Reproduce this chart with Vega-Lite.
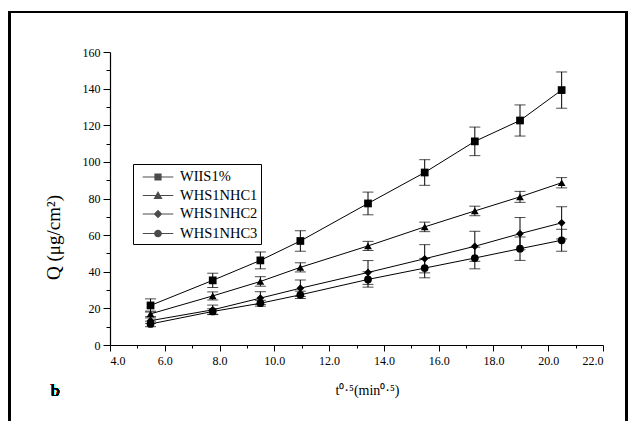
{
  "$schema": "https://vega.github.io/schema/vega-lite/v6.json",
  "width": 493,
  "height": 293,
  "autosize": {"type": "none"},
  "padding": {"left": 110, "top": 52, "right": 33, "bottom": 76},
  "background": "white",
  "config": {
    "view": {"stroke": null},
    "font": "Liberation Serif",
    "axis": {"grid": false, "domainColor": "black", "tickColor": "black", "labelColor": "black", "titleColor": "black", "labelFont": "Liberation Serif", "titleFont": "Liberation Serif", "labelFontSize": 12, "titleFontWeight": "normal", "labelOverlap": false},
    "legend": {"labelFont": "Liberation Serif"}
  },
  "data": {
    "values": [
      {"series": "WIIS1%", "x": 5.48, "y": 21.6, "lo": 18.0, "hi": 25.2},
      {"series": "WIIS1%", "x": 7.75, "y": 35.3, "lo": 31.4, "hi": 39.2},
      {"series": "WIIS1%", "x": 9.49, "y": 46.2, "lo": 41.6, "hi": 50.8},
      {"series": "WIIS1%", "x": 10.95, "y": 56.8, "lo": 51.2, "hi": 62.4},
      {"series": "WIIS1%", "x": 13.42, "y": 77.3, "lo": 71.1, "hi": 83.5},
      {"series": "WIIS1%", "x": 15.49, "y": 94.2, "lo": 87.2, "hi": 101.2},
      {"series": "WIIS1%", "x": 17.32, "y": 111.2, "lo": 103.4, "hi": 119.0},
      {"series": "WIIS1%", "x": 18.97, "y": 122.6, "lo": 114.1, "hi": 131.1},
      {"series": "WIIS1%", "x": 20.49, "y": 139.2, "lo": 129.3, "hi": 149.1},
      {"series": "WHS1NHC1", "x": 5.48, "y": 17.0, "lo": 15.5, "hi": 18.5},
      {"series": "WHS1NHC1", "x": 7.75, "y": 26.8, "lo": 24.6, "hi": 29.0},
      {"series": "WHS1NHC1", "x": 9.49, "y": 34.7, "lo": 32.1, "hi": 37.3},
      {"series": "WHS1NHC1", "x": 10.95, "y": 42.4, "lo": 39.9, "hi": 44.9},
      {"series": "WHS1NHC1", "x": 13.42, "y": 54.1, "lo": 51.6, "hi": 56.6},
      {"series": "WHS1NHC1", "x": 15.49, "y": 64.5, "lo": 61.9, "hi": 67.1},
      {"series": "WHS1NHC1", "x": 17.32, "y": 73.2, "lo": 70.6, "hi": 75.8},
      {"series": "WHS1NHC1", "x": 18.97, "y": 80.9, "lo": 77.9, "hi": 83.9},
      {"series": "WHS1NHC1", "x": 20.49, "y": 88.6, "lo": 85.8, "hi": 91.4},
      {"series": "WHS1NHC2", "x": 5.48, "y": 13.3, "lo": 11.8, "hi": 14.8},
      {"series": "WHS1NHC2", "x": 7.75, "y": 19.2, "lo": 16.6, "hi": 21.8},
      {"series": "WHS1NHC2", "x": 9.49, "y": 25.6, "lo": 22.1, "hi": 29.1},
      {"series": "WHS1NHC2", "x": 10.95, "y": 31.0, "lo": 26.5, "hi": 35.5},
      {"series": "WHS1NHC2", "x": 13.42, "y": 39.6, "lo": 33.1, "hi": 46.1},
      {"series": "WHS1NHC2", "x": 15.49, "y": 47.1, "lo": 39.4, "hi": 54.8},
      {"series": "WHS1NHC2", "x": 17.32, "y": 53.9, "lo": 45.7, "hi": 62.1},
      {"series": "WHS1NHC2", "x": 18.97, "y": 60.8, "lo": 52.0, "hi": 69.6},
      {"series": "WHS1NHC2", "x": 20.49, "y": 66.7, "lo": 57.9, "hi": 75.5},
      {"series": "WHS1NHC3", "x": 5.48, "y": 11.5, "lo": 10.0, "hi": 13.0},
      {"series": "WHS1NHC3", "x": 7.75, "y": 18.3, "lo": 16.8, "hi": 19.8},
      {"series": "WHS1NHC3", "x": 9.49, "y": 22.8, "lo": 21.2, "hi": 24.4},
      {"series": "WHS1NHC3", "x": 10.95, "y": 27.4, "lo": 25.4, "hi": 29.4},
      {"series": "WHS1NHC3", "x": 13.42, "y": 35.8, "lo": 31.6, "hi": 40.0},
      {"series": "WHS1NHC3", "x": 15.49, "y": 42.0, "lo": 36.7, "hi": 47.3},
      {"series": "WHS1NHC3", "x": 17.32, "y": 47.5, "lo": 41.6, "hi": 53.4},
      {"series": "WHS1NHC3", "x": 18.97, "y": 52.6, "lo": 46.2, "hi": 59.0},
      {"series": "WHS1NHC3", "x": 20.49, "y": 57.2, "lo": 51.2, "hi": 63.2}
    ]
  },
  "layer": [
    {
      "mark": {"type": "rect", "filled": false, "color": "black", "strokeWidth": 2},
      "encoding": {
        "x": {
          "datum": 0.32, "type": "quantitative",
          "scale": {"domain": [4, 22], "nice": false, "zero": false},
          "axis": {
            "values": [4,5,6,7,8,9,10,11,12,13,14,15,16,17,18,19,20,21,22],
            "tickCount": 50,
            "labelExpr": "datum.value % 2 === 0 ? datum.label : ''",
            "labelOverlap": false,
            "tickSize": {"condition": {"test": "datum.value % 2 === 0", "value": 6}, "value": 3},
            "labelPadding": 4,
            "domainWidth": 1.2,
            "title": "t⁰·⁵(min⁰·⁵)",
            "titleFontSize": 14,
            "titleX": 257,
            "titleY": 38,
            "titleBaseline": "top"
          }
        },
        "x2": {"datum": 22.87},
        "y": {
          "datum": 181.8, "type": "quantitative",
          "scale": {"domain": [0, 160], "nice": false, "zero": false},
          "axis": {
            "values": [0,10,20,30,40,50,60,70,80,90,100,110,120,130,140,150,160],
            "tickCount": 50,
            "labelExpr": "datum.value % 20 === 0 ? datum.label : ''",
            "labelOverlap": false,
            "tickSize": {"condition": {"test": "datum.value % 20 === 0", "value": 7}, "value": 4},
            "labelPadding": 3,
            "domainWidth": 1.2,
            "title": "Q (μg/cm²)",
            "titleFontSize": 19,
            "titleX": -57,
            "titleY": 185,
            "titleBaseline": "middle"
          }
        },
        "y2": {"datum": -60}
      }
    },
    {
      "mark": {"type": "text", "text": "b", "fontSize": 17, "fontWeight": "normal", "font": "Liberation Serif", "color": "black", "align": "center", "baseline": "middle"},
      "encoding": {
        "x": {"datum": 2.0, "type": "quantitative", "title": "t⁰·⁵(min⁰·⁵)"},
        "y": {"datum": -25, "type": "quantitative", "title": "Q (μg/cm²)"}
      }
    },
    {
      "mark": {"type": "errorbar", "ticks": {"size": 11, "thickness": 1, "color": "black"}, "rule": {"color": "black", "strokeWidth": 1}},
      "encoding": {
        "x": {"field": "x", "type": "quantitative", "title": "t⁰·⁵(min⁰·⁵)"},
        "y": {"field": "lo", "type": "quantitative", "title": "Q (μg/cm²)"},
        "y2": {"field": "hi"}
      }
    },
    {
      "mark": {"type": "line", "color": "black", "strokeWidth": 1},
      "encoding": {
        "x": {"field": "x", "type": "quantitative", "title": "t⁰·⁵(min⁰·⁵)"},
        "y": {"field": "y", "type": "quantitative", "title": "Q (μg/cm²)"},
        "detail": {"field": "series"},
        "order": {"field": "x"}
      }
    },
    {
      "mark": {"type": "point", "filled": true, "color": "black", "size": 60, "opacity": 1},
      "encoding": {
        "x": {"field": "x", "type": "quantitative", "title": "t⁰·⁵(min⁰·⁵)"},
        "y": {"field": "y", "type": "quantitative", "title": "Q (μg/cm²)"},
        "shape": {
          "field": "series", "type": "nominal",
          "scale": {"domain": ["WIIS1%", "WHS1NHC1", "WHS1NHC2", "WHS1NHC3"], "range": ["square", "triangle-up", "diamond", "circle"]},
          "legend": null
        }
      }
    },
    {
      "transform": [{"filter": "datum.x < 0"}],
      "mark": {"type": "point", "filled": true, "color": "black"},
      "encoding": {
        "x": {"field": "x", "type": "quantitative", "title": "t⁰·⁵(min⁰·⁵)"},
        "y": {"field": "y", "type": "quantitative", "title": "Q (μg/cm²)"},
        "shape": {
          "field": "series", "type": "nominal",
          "scale": {"domain": ["WIIS1%", "WHS1NHC1", "WHS1NHC2", "WHS1NHC3"], "range": [
            "M-1.7,-0.06H1.7V0.06H-1.7ZM-0.4,-0.4H0.4V0.4H-0.4Z",
            "M-1.7,-0.06H1.7V0.06H-1.7ZM0,-0.5L0.5,0.38H-0.5Z",
            "M-1.7,-0.06H1.7V0.06H-1.7ZM0,-0.48L0.48,0L0,0.48L-0.48,0Z",
            "M-1.7,-0.06H1.7V0.06H-1.7ZM-0.43,0A0.43,0.43,0,1,1,0.43,0A0.43,0.43,0,1,1,-0.43,0Z"
          ]},
          "legend": {
            "title": null,
            "orient": "none",
            "legendX": 23,
            "legendY": 112,
            "strokeColor": "black",
            "padding": 3,
            "symbolSize": 324,
            "symbolOffset": 12,
            "symbolFillColor": "black",
            "labelFontSize": 14.5,
            "labelColor": "black",
            "labelOffset": 12,
            "rowPadding": 1.5
          }
        }
      }
    }
  ],
  "resolve": {"scale": {"shape": "independent"}}
}
